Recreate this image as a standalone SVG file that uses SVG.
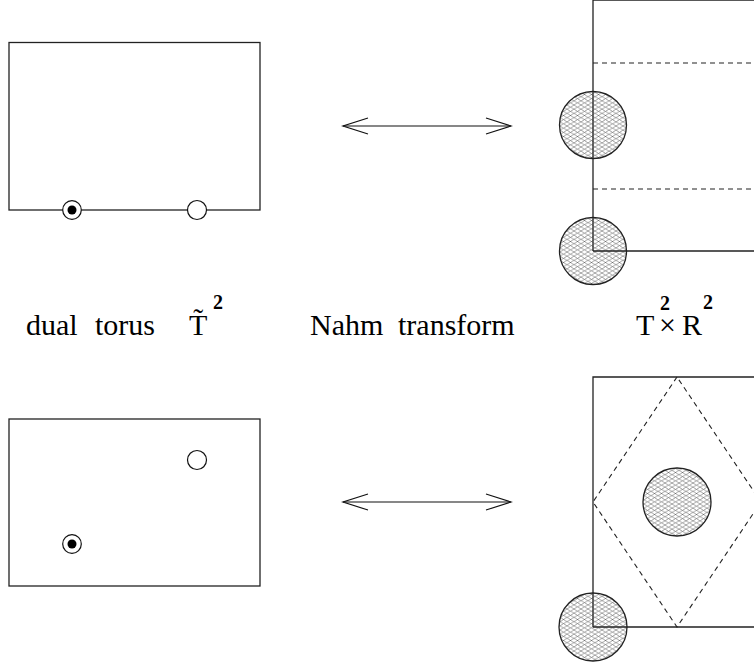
<svg xmlns="http://www.w3.org/2000/svg" width="754" height="664" viewBox="0 0 754 664">
<style>
.frame{fill:none;stroke:#222;stroke-width:1.3}
.dash{fill:none;stroke:#222;stroke-width:1.1;stroke-dasharray:5,4}
.hatch{fill:url(#mesh);stroke:#222;stroke-width:1.3}
.ring{fill:#fff;stroke:#111;stroke-width:1.2}
.dot{fill:#000}
.arr{fill:none;stroke:#111;stroke-width:1.2}
.edge{stroke:#222;stroke-width:1.3}
.lbl{font-family:"Liberation Serif","Times New Roman",serif;font-size:30px;fill:#000}
.sup{font-size:20px;font-weight:bold}
</style>
<defs>
<pattern id="mesh" patternUnits="userSpaceOnUse" width="7" height="4.2">
<rect width="7" height="4.2" fill="#fff"/>
<path d="M0,0 L7,4.2 M0,4.2 L7,0" stroke="#555" stroke-width="0.55" fill="none"/>
</pattern>
</defs>
<g id="panel-dual-torus-top">
<rect class="frame" x="9" y="42.5" width="251" height="167.5"/>
<circle class="ring" cx="72" cy="210" r="9.3"/>
<circle class="dot" cx="72" cy="210" r="4.5"/>
<circle class="ring" cx="197" cy="210" r="9.5"/>
</g>
<g id="panel-dual-torus-bottom">
<rect class="frame" x="9" y="419" width="251" height="167"/>
<circle class="ring" cx="197" cy="460" r="9.5"/>
<circle class="ring" cx="72" cy="544" r="9.3"/>
<circle class="dot" cx="72" cy="544" r="4.5"/>
</g>
<g id="panel-TxR-top">
<path class="frame" d="M754,0 H593 V251 H754"/>
<line class="dash" x1="593" y1="63" x2="754" y2="63"/>
<line class="dash" x1="593" y1="189" x2="754" y2="189"/>
<circle class="hatch" cx="593" cy="125" r="33.5"/>
<circle class="hatch" cx="593" cy="251" r="33.5"/>
<line class="edge" x1="593" y1="91.5" x2="593" y2="158.5"/>
<line class="edge" x1="593" y1="217.5" x2="593" y2="251"/>
<line class="edge" x1="593" y1="251" x2="626.5" y2="251"/>
</g>
<g id="panel-TxR-bottom">
<path class="frame" d="M754,377 H593 V627 H754"/>
<path class="dash" d="M677,377 L593,502 L677,627 L761,502 Z"/>
<circle class="hatch" cx="677" cy="502" r="34"/>
<circle class="hatch" cx="593" cy="627" r="34"/>
<line class="edge" x1="593" y1="593" x2="593" y2="627"/>
<line class="edge" x1="593" y1="627" x2="627" y2="627"/>
</g>
<g id="connectors">
<g id="arrow-top">
<line class="arr" x1="343" y1="126" x2="511" y2="126"/>
<path class="arr" d="M368,118 L343,126 L368,134"/>
<path class="arr" d="M486,118 L511,126 L486,134"/>
</g>
<g id="arrow-bottom">
<line class="arr" x1="343" y1="502" x2="511" y2="502"/>
<path class="arr" d="M368,494 L343,502 L368,510"/>
<path class="arr" d="M486,494 L511,502 L486,510"/>
</g>
</g>
<g id="labels">
<text class="lbl" x="26" y="335">dual</text>
<text class="lbl" x="95" y="335">torus</text>
<text class="lbl"><tspan x="189" y="335">T̃</tspan><tspan class="sup" x="213" y="309">2</tspan></text>
<text class="lbl" x="310" y="335">Nahm</text>
<text class="lbl" x="398" y="335">transform</text>
<text class="lbl"><tspan x="636" y="335">T</tspan><tspan class="sup" x="660" y="310">2</tspan><tspan x="659" y="335">×</tspan><tspan x="682" y="335">R</tspan><tspan class="sup" x="703" y="309">2</tspan></text>
</g>
</svg>
